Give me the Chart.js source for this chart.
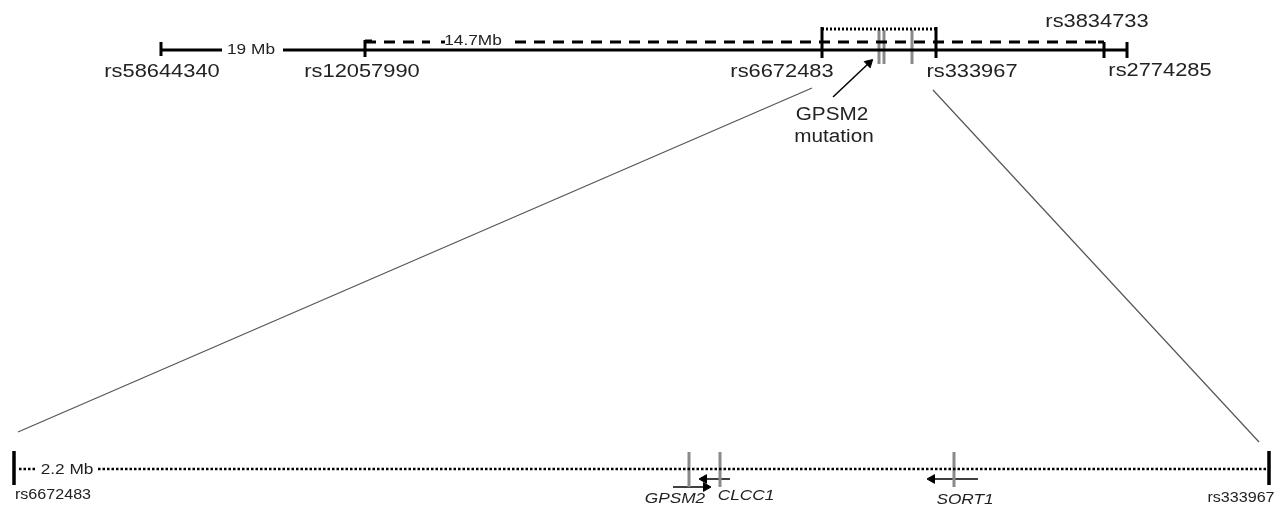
<!DOCTYPE html>
<html>
<head>
<meta charset="utf-8">
<script src="https://cdn.jsdelivr.net/npm/chart.js@4"></script>
<style>
  body { margin: 0; background: #fff; }
  #wrap { width: 1282px; height: 508px; }
</style>
</head>
<body>
<div id="wrap"><canvas id="map"></canvas></div>
<script>
// top map: markers along the chromosome (diagram units)
var topMarkers = ['rs58644340', 'rs12057990', 'rs6672483', 'rs333967', 'rs2774285'];
var topMarkerPos = [161, 365, 822, 936, 1127];
var topTickTop = [42, 40, 27, 27, 42];
var topTickBottom = [56, 57, 58, 58, 58];
var extraMarker = 'rs3834733';
var extraMarkerPos = 1104;

// gene positions in the top map (grey bars)
var topGenePos = [879, 884, 912];

// zoomed region: rs6672483 .. rs333967 (2.2 Mb)
var zoomEnds = ['rs6672483', 'rs333967'];
var zoomEndPos = [14, 1269];
var genes = ['GPSM2', 'CLCC1', 'SORT1'];
var genePos = [689, 720, 954];
var geneStart = [673, 730, 978];
var geneEnd = [710, 700, 928];
var geneArrowY = [487, 479, 479];

var datasets = [];
function seg(x1, y1, x2, y2, color, width, dash) {
	datasets.push({
		data: [{x: x1, y: y1}, {x: x2, y: y2}],
		showLine: true,
		pointRadius: 0,
		borderColor: color,
		borderWidth: width,
		borderDash: dash || [],
		borderCapStyle: 'butt'
	});
}
function head(x, y, rot) {
	datasets.push({
		data: [{x: x, y: y}],
		pointStyle: 'triangle',
		pointRadius: 5,
		rotation: rot,
		backgroundColor: '#000',
		borderColor: '#000',
		borderWidth: 1
	});
}

// --- top map ---
var Y = 50;
seg(topMarkerPos[0], Y, 222, Y, '#000', 3);
seg(283, Y, topMarkerPos[4], Y, '#000', 3);
// dashed 14.7 Mb interval
seg(topMarkerPos[1], 42, 430, 42, '#000', 3, [11, 8]);
seg(441, 42, 445, 42, '#000', 3);
seg(515, 42, extraMarkerPos, 42, '#000', 3, [11, 8]);
seg(1098, 42, extraMarkerPos, 42, '#000', 3);
// dotted interval over candidate region
seg(topMarkerPos[2], 29, topMarkerPos[3], 29, '#000', 3, [2, 2]);
for (var i = 0; i < topMarkerPos.length; i++) {
	seg(topMarkerPos[i], topTickTop[i], topMarkerPos[i], topTickBottom[i], '#000', 3);
}
seg(extraMarkerPos, 42, extraMarkerPos, 58, '#000', 3);
seg(topMarkerPos[1], 41, 372, 41, '#000', 3);
topGenePos.forEach(function (x) { seg(x, 30, x, 64, '#8a8a8a', 3); });

// mutation arrow
seg(833, 97, 869, 63, '#000', 1.5);
head(869, 63, 46.5);

// zoom lines
seg(812, 88, 18, 432, '#555', 1.2);
seg(933, 90, 1259, 442, '#555', 1.2);

// --- zoomed region ---
var YB = 469;
seg(19, YB, 37, YB, '#000', 2.5, [2.5, 2]);
seg(98, YB, 1266, YB, '#000', 2.5, [2.5, 2]);
zoomEndPos.forEach(function (x) { seg(x, 451, x, 485, '#000', 3.5); });
genePos.forEach(function (x) { seg(x, 452, x, 487, '#8a8a8a', 3); });
for (var g = 0; g < genes.length; g++) {
	var dir = geneEnd[g] > geneStart[g] ? 1 : -1;
	seg(geneStart[g], geneArrowY[g], geneEnd[g] - dir * 4, geneArrowY[g], '#000', 1.5);
	head(geneEnd[g] - dir * 4, geneArrowY[g], dir > 0 ? 90 : -90);
}

var labels = [];
function txt(t, x, y, size, italic) {
	labels.push({t: t, x: x, y: y, size: size, italic: italic});
}
var topLabelX = [162, 362, 782, 972, 1160];
var topLabelY = [72, 72, 72, 72, 71];
topMarkers.forEach(function (m, k) { txt(m, topLabelX[k], topLabelY[k], 19); });
txt(extraMarker, 1097, 22, 19);
txt('19 Mb', 251, 50, 15);
txt('14.7Mb', 473, 41, 15);
txt('GPSM2', 832, 115, 18);
txt('mutation', 834, 137, 18);
txt(zoomEnds[0], 53, 495, 14);
txt(zoomEnds[1], 1241, 498, 14);
txt('2.2 Mb', 67, 470, 15);
var geneLabelX = [675, 746, 965];
var geneLabelY = [499, 496, 500];
genes.forEach(function (n, k) { txt(n, geneLabelX[k], geneLabelY[k], 15, true); });

var textPlugin = {
	id: 'mapText',
	afterDatasetsDraw: function (chart) {
		var ctx = chart.ctx;
		var sx = chart.scales.x, sy = chart.scales.y;
		labels.forEach(function (l) {
			ctx.save();
			ctx.translate(sx.getPixelForValue(l.x), sy.getPixelForValue(l.y));
			ctx.scale(1.15, 1);
			ctx.font = (l.italic ? 'italic ' : '') + l.size + 'px "Liberation Sans", Arial, sans-serif';
			ctx.fillStyle = '#222';
			ctx.textAlign = 'center';
			ctx.textBaseline = 'middle';
			ctx.fillText(l.t, 0, 0);
			ctx.restore();
		});
	}
};

new Chart(document.getElementById('map'), {
	type: 'scatter',
	data: { datasets: datasets },
	options: {
		responsive: true,
		maintainAspectRatio: false,
		animation: false,
		events: [],
		layout: { padding: 0, autoPadding: false },
		plugins: { legend: { display: false }, tooltip: { enabled: false } },
		scales: {
			x: { type: 'linear', min: 0, max: 1282, display: false },
			y: { type: 'linear', min: 0, max: 508, reverse: true, display: false }
		}
	},
	plugins: [textPlugin]
});
</script>
</body>
</html>
